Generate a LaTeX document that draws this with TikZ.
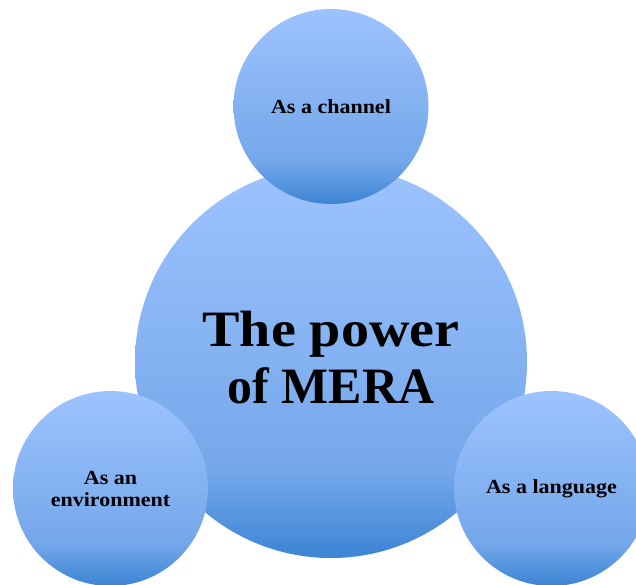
\documentclass[tikz,border=0pt]{standalone}
\usepackage{fontspec}
\setmainfont[FakeStretch=1.1]{Liberation Serif}
\definecolor{bublight}{HTML}{9DC3FE}
\definecolor{bubmid}{HTML}{74A7EA}
\definecolor{bubdark}{HTML}{3C84D4}
% light at the top, darkening towards the bottom edge
\pgfdeclareverticalshading{bubble}{100bp}{color(0bp)=(bubdark); color(25bp)=(bubdark); color(36bp)=(bubmid); color(75bp)=(bublight); color(100bp)=(bublight)}
\begin{document}
\begin{tikzpicture}[x=1pt,y=-1pt,
  bubble/.style={circle, inner sep=0pt, shading=bubble, align=center, text=black},
  hub/.style={bubble, minimum size=392pt},
  hubtitle/.style={inner sep=0pt, align=center, text=black, font=\bfseries\fontsize{51}{57}\selectfont},
  petal/.style={bubble, minimum size=195pt, font=\bfseries\fontsize{20}{22}\selectfont}]
\useasboundingbox (0,0) rectangle (636,585);
\node[hub] (power) at (331,362) {};
\node[hubtitle] (powertext) at (331,358) {The power\\\scalebox{0.89}[1]{of MERA}};
\node[petal] (channel) at (331,106.5) {As a channel};
\node[petal] (environment) at (110.5,488.5) {As an\\environment};
\node[petal] (language) at (551.5,488.5) {As a language};
\end{tikzpicture}
\end{document}
